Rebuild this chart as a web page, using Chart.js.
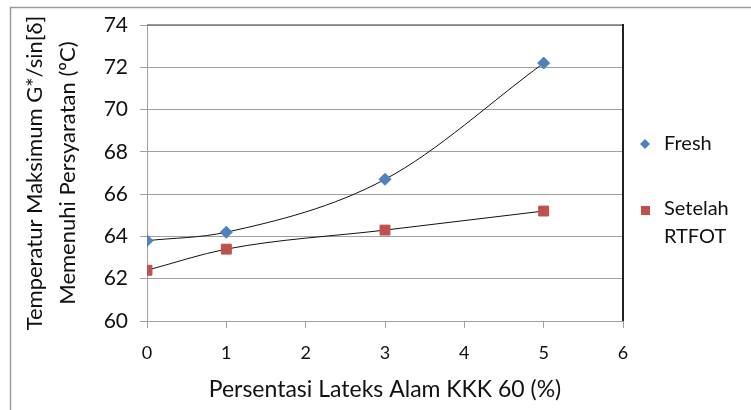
<!DOCTYPE html>
<html>
<head>
<meta charset="utf-8">
<script src="https://cdn.jsdelivr.net/npm/chart.js@4.4.0/dist/chart.umd.min.js"></script>
<style>
  body { margin: 0; background: #fff; }
  canvas { display: block; }
</style>
</head>
<body>
<canvas id="chart" width="751" height="410"></canvas>
<script>
// Data
const xValues = [0, 1, 3, 5];
const freshValues = [63.8, 64.2, 66.7, 72.2];
const rtfotValues = [62.4, 63.4, 64.3, 65.2];
const seriesNames = ['Fresh', 'Setelah RTFOT'];
const xTitle = 'Persentasi Lateks Alam KKK 60 (%)';
const yTitle = ['Temperatur Maksimum G*/sin[δ]', 'Memenuhi Persyaratan (ºC)'];

const FONT = 'Lato, "Open Sans", sans-serif';
const blue = '#4F81BD';
const red = '#C0504D';

function toPoints(ys) {
    return xValues.map((x, i) => ({ x: x, y: ys[i] }));
}

// frame, right border of plot and the legend
const extras = {
    id: 'extras',
    afterDraw(chart) {
        const ctx = chart.ctx;
        const a = chart.chartArea;
        ctx.save();
        ctx.strokeStyle = '#9a9a9a';
        ctx.lineWidth = 1.5;
        ctx.beginPath();
        ctx.moveTo(10.5, 412);
        ctx.lineTo(10.5, 7.5);
        ctx.lineTo(753, 7.5);
        ctx.stroke();

        ctx.strokeStyle = '#777';
        ctx.lineWidth = 1.5;
        ctx.beginPath();
        ctx.moveTo(a.left, a.top);
        ctx.lineTo(a.right, a.top);
        ctx.stroke();
        ctx.strokeStyle = '#222';
        ctx.lineWidth = 2;
        ctx.beginPath();
        ctx.moveTo(a.right, a.top - 1);
        ctx.lineTo(a.right, a.bottom);
        ctx.stroke();

        // legend
        ctx.font = '20px ' + FONT;
        ctx.textBaseline = 'middle';
        ctx.fillStyle = blue;
        ctx.beginPath();
        ctx.moveTo(645, 139); ctx.lineTo(650, 144); ctx.lineTo(645, 149); ctx.lineTo(640, 144);
        ctx.closePath(); ctx.fill();
        ctx.fillStyle = red;
        ctx.fillRect(641, 206, 9, 9);
        ctx.fillStyle = '#111';
        ctx.fillText(chart.data.datasets[0].label, 664, 144);
        const parts = chart.data.datasets[1].label.split(' ');
        ctx.fillText(parts[0], 664, 209);
        ctx.fillText(parts[1], 664, 237);
        ctx.restore();
    }
};

const ctx = document.getElementById('chart').getContext('2d');

const myChart = new Chart(ctx, {
    type: 'scatter',
    data: {
        datasets: [{
            label: seriesNames[0],
            data: toPoints(freshValues),
            pointStyle: 'rectRot',
            pointRadius: 6,
            backgroundColor: blue,
            borderColor: blue,
            showLine: false,
            order: 0
        }, {
            label: seriesNames[1],
            data: toPoints(rtfotValues),
            pointStyle: 'rect',
            pointRadius: 7,
            backgroundColor: red,
            borderColor: red,
            showLine: false,
            order: 0
        }, {
            label: 'trend fresh',
            data: toPoints(freshValues),
            showLine: true,
            borderColor: '#111',
            borderWidth: 1,
            pointRadius: 0,
            cubicInterpolationMode: 'monotone',
            order: 1
        }, {
            label: 'trend rtfot',
            data: toPoints(rtfotValues),
            showLine: true,
            borderColor: '#111',
            borderWidth: 1,
            pointRadius: 0,
            cubicInterpolationMode: 'monotone',
            order: 1
        }]
    },
    options: {
        responsive: false,
        animation: false,
        layout: { padding: { left: 10, top: 25, right: 128, bottom: 0 } },
        plugins: {
            legend: { display: false },
            tooltip: { enabled: false }
        },
        scales: {
            x: {
                type: 'linear',
                min: 0,
                max: 6,
                afterFit: s => { s.height = 89; },
                ticks: { stepSize: 1, padding: 14, color: '#111', font: { family: FONT, size: 18 } },
                grid: { drawOnChartArea: false, drawTicks: true, tickLength: 7, color: '#a0a0a0' },
                border: { color: '#a0a0a0' },
                title: {
                    display: true,
                    text: xTitle,
                    color: '#111',
                    font: { family: FONT, size: 23 },
                    padding: { top: 0, bottom: 7 }
                }
            },
            y: {
                min: 60,
                max: 74,
                afterFit: s => { s.width = 137; },
                ticks: { stepSize: 2, padding: 12, color: '#111', font: { family: FONT, size: 21 } },
                grid: { color: '#a0a0a0', tickLength: 7 },
                border: { color: '#a0a0a0' },
                title: {
                    display: true,
                    text: yTitle,
                    color: '#111',
                    font: { family: FONT, size: 22, lineHeight: 1.5 },
                    padding: { top: 8, bottom: 0 }
                }
            }
        }
    },
    plugins: [extras]
});
myChart.update();
</script>
</body>
</html>
